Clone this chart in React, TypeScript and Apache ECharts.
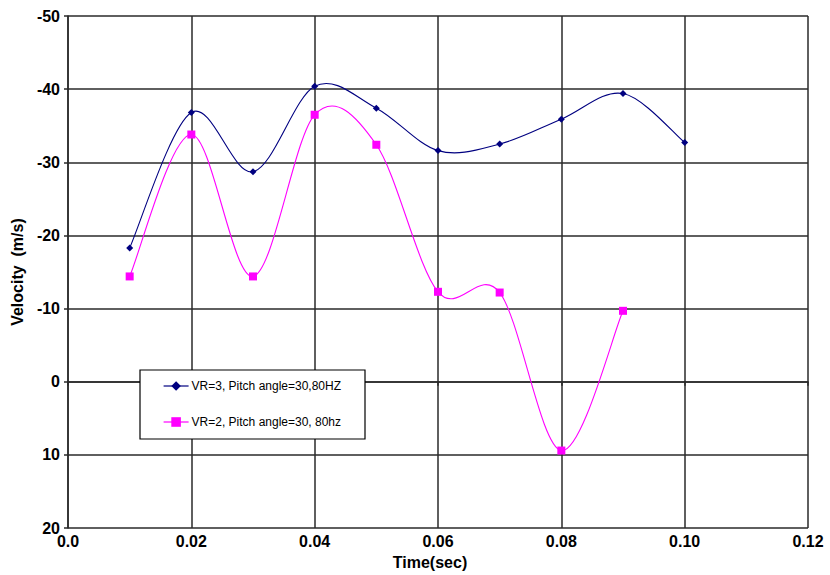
import React, { useEffect, useRef } from "react";
import * as echarts from "echarts";

const times = [0.01, 0.02, 0.03, 0.04, 0.05, 0.06, 0.07, 0.08, 0.09, 0.1];
const vr3Values = [-18.3, -36.8, -28.7, -40.4, -37.4, -31.6, -32.5, -35.9, -39.4, -32.7];
const vr2Values = [-14.4, -33.8, -14.4, -36.5, -32.4, -12.3, -12.2, 9.4, -9.7];
const seriesNames = ["VR=3, Pitch angle=30,80HZ", "VR=2, Pitch angle=30, 80hz"];
const seriesColors = ["#000080", "#ff00ff"];
const xTitle = "Time(sec)";
const yTitle = "Velocity  (m/s)";

const FONT = "Liberation Sans, Arial, sans-serif";

// Excel-style smoothed curve (Bezier with control points at 1/6 of neighbour span)
function smoothCurveSeries(name: string, pts: number[][], color: string) {
  return {
    name: name + " curve",
    type: "custom",
    coordinateSystem: "cartesian2d",
    silent: true,
    z: 2,
    encode: { x: 0, y: 1 },
    data: pts.slice(0, pts.length - 1).map((p, i) => [p[0], p[1], i]),
    renderItem: (_params: any, api: any) => {
      const i = api.value(2);
      const c = pts.map((p) => api.coord(p));
      const p0 = c[Math.max(i - 1, 0)];
      const p1 = c[i];
      const p2 = c[i + 1];
      const p3 = c[Math.min(i + 2, c.length - 1)];
      return {
        type: "bezierCurve",
        shape: {
          x1: p1[0],
          y1: p1[1],
          x2: p2[0],
          y2: p2[1],
          cpx1: p1[0] + (p2[0] - p0[0]) / 6,
          cpy1: p1[1] + (p2[1] - p0[1]) / 6,
          cpx2: p2[0] - (p3[0] - p1[0]) / 6,
          cpy2: p2[1] - (p3[1] - p1[1]) / 6,
        },
        style: { stroke: color, fill: "none", lineWidth: 1.1 },
      };
    },
  };
}

export default function App() {
  const ref = useRef<HTMLDivElement>(null);
  useEffect(() => {
    document.body.style.margin = "0";
    if (!ref.current) return;
    const chart = echarts.init(ref.current, undefined, { renderer: "svg" });
    const gridColor = "#2a2a2a";
    const vr3Pts = times.map((t, i) => [t, vr3Values[i]]);
    const vr2Pts = vr2Values.map((v, i) => [times[i], v]);
    chart.setOption({
      animation: false,
      backgroundColor: "#ffffff",
      textStyle: { fontFamily: FONT },
      grid: { left: 68, right: 22, top: 16, bottom: 42, containLabel: false },
      xAxis: {
        type: "value",
        min: 0,
        max: 0.12,
        interval: 0.02,
        name: xTitle,
        nameLocation: "middle",
        nameGap: 25,
        nameTextStyle: { color: "#000", fontSize: 16, fontWeight: "bold", fontFamily: FONT, padding: [0, 16, 0, 0] },
        axisLine: { show: true, lineStyle: { color: gridColor, width: 1.5 } },
        axisTick: { show: true, inside: false, length: 4, lineStyle: { color: gridColor, width: 1.5 } },
        axisLabel: {
          color: "#000",
          fontSize: 16,
          fontWeight: "bold",
          fontFamily: FONT,
          margin: 5,
          formatter: (v: number) => (Math.abs(v) < 1e-9 ? "0.0" : v.toFixed(2)),
        },
        splitLine: { show: true, lineStyle: { color: gridColor, width: 1.5 } },
      },
      yAxis: {
        type: "value",
        inverse: true,
        min: -50,
        max: 20,
        interval: 10,
        name: yTitle,
        nameLocation: "middle",
        nameGap: 40,
        nameRotate: 90,
        nameTextStyle: { color: "#000", fontSize: 16, fontWeight: "bold", fontFamily: FONT },
        axisLine: { show: true, lineStyle: { color: gridColor, width: 1.5 } },
        axisTick: { show: true, inside: false, length: 4, lineStyle: { color: gridColor, width: 1.5 } },
        axisLabel: { color: "#000", fontSize: 16, fontWeight: "bold", fontFamily: FONT, margin: 8 },
        splitLine: { show: true, lineStyle: { color: gridColor, width: 1.5 } },
      },
      graphic: [
        {
          type: "rect",
          z: 3,
          shape: { x: 140, y: 370, width: 225, height: 69 },
          style: { fill: "#ffffff", stroke: "#000", lineWidth: 1.2 },
        },
      ],
      legend: {
        orient: "vertical",
        left: 163,
        top: 380,
        padding: 0,
        itemWidth: 25,
        itemHeight: 12,
        itemGap: 24,
        z: 5,
        textStyle: { color: "#000", fontSize: 12, fontFamily: FONT, padding: [0, 0, 0, -2] },
        data: seriesNames.map((n, i) => ({
          name: n,
          lineStyle: { color: seriesColors[i], width: 1.2, opacity: 1 },
        })),
      },
      series: [
        smoothCurveSeries(seriesNames[0], vr3Pts, seriesColors[0]),
        smoothCurveSeries(seriesNames[1], vr2Pts, seriesColors[1]),
        {
          name: seriesNames[0],
          type: "line",
          z: 3,
          data: vr3Pts,
          symbol: "diamond",
          symbolSize: 7,
          lineStyle: { color: seriesColors[0], width: 1, opacity: 0 },
          itemStyle: { color: seriesColors[0] },
        },
        {
          name: seriesNames[1],
          type: "line",
          z: 3,
          data: vr2Pts,
          symbol: "rect",
          symbolSize: 8,
          lineStyle: { color: seriesColors[1], width: 1, opacity: 0 },
          itemStyle: { color: seriesColors[1] },
        },
      ],
    });
    return () => chart.dispose();
  }, []);
  return <div ref={ref} style={{ width: 830, height: 575 }} />;
}
